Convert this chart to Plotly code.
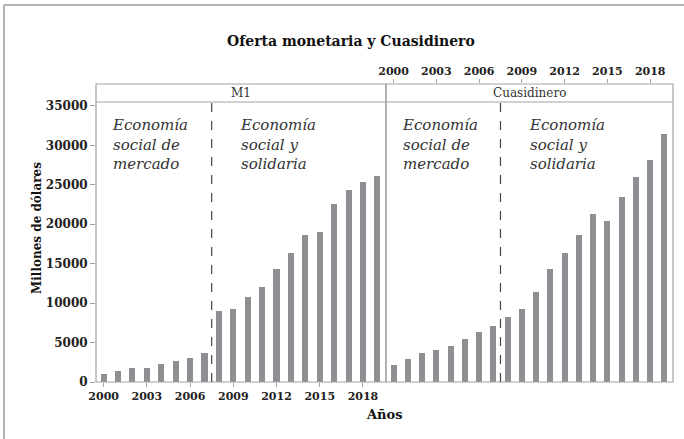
import plotly.graph_objects as go

# Annual series, millions of dollars
years = list(range(2000, 2020))
m1 = [1000, 1400, 1800, 1800, 2250, 2700, 3100, 3700, 8950, 9200,
      10750, 12050, 14350, 16300, 18600, 19000, 22600, 24350, 25300, 26150]
cuasidinero = [2100, 2950, 3700, 4000, 4550, 5450, 6350, 7050, 8300, 9300,
               11400, 14350, 16300, 18700, 21250, 20450, 23500, 26050, 28200, 31500]
panel_names = ["M1", "Cuasidinero"]
period_labels = ["Economía<br>social de<br>mercado", "Economía<br>social y<br>solidaria"]
year_ticks = [2000, 2003, 2006, 2009, 2012, 2015, 2018]
value_ticks = [0, 5000, 10000, 15000, 20000, 25000, 30000, 35000]
break_year = 2007.5

W, H = 684, 439
L, R, T, B = 96, 673, 84, 382          # plot area in pixels
mid = 386                               # panel divider
panel_top = 35500                       # top of bar area (below strip)
y_top = panel_top * (B - T) / (B - 102)

def px(xp):
    return (xp - L) / (R - L)

def py(yp):
    return (B - yp) / (B - T)

SERIF = "DejaVu Serif"
BAR = "#8e8e93"
EDGE = "#a3a3a3"

fig = go.Figure()
fig.add_trace(go.Bar(x=years, y=m1, width=0.42, marker_color=BAR,
                     marker_line_width=0, xaxis="x", yaxis="y", showlegend=False))
fig.add_trace(go.Bar(x=years, y=cuasidinero, width=0.42, marker_color=BAR,
                     marker_line_width=0, xaxis="x2", yaxis="y", showlegend=False))

d = (mid - L) / (R - L)
xr = [1999.47, 2019.6]
tick_font = dict(family=SERIF, size=11, color="#222", weight="bold")

fig.update_layout(
    width=W, height=H,
    margin=dict(l=L, r=W - R, t=T, b=H - B),
    paper_bgcolor="white", plot_bgcolor="white",
    bargap=0,
    xaxis=dict(domain=[0, d], range=xr, tickvals=year_ticks, ticks="outside",
               ticklen=4, tickcolor=EDGE, showline=False, showgrid=False,
               zeroline=False, tickfont=tick_font, anchor="y"),
    xaxis2=dict(domain=[d, 1], range=xr, tickvals=year_ticks, ticks="outside",
                ticklen=4, tickcolor=EDGE, side="top", showline=False,
                showgrid=False, zeroline=False, tickfont=tick_font, anchor="y"),
    yaxis=dict(range=[0, y_top], tickvals=value_ticks,
               ticktext=[str(v) for v in value_ticks], ticks="outside",
               ticklen=5, tickcolor=EDGE, showline=False, showgrid=False,
               zeroline=False,
               tickfont=dict(family=SERIF, size=12, color="#222", weight="bold")),
)

shapes = []
for ax in ["x", "x2"]:
    # panel frame including the strip
    shapes.append(dict(type="rect", xref=f"{ax} domain", yref="paper",
                       x0=0, x1=1, y0=0, y1=1, line=dict(color=EDGE, width=1.2)))
    # strip separator
    shapes.append(dict(type="line", xref=f"{ax} domain", yref="y",
                       x0=0, x1=1, y0=panel_top, y1=panel_top,
                       line=dict(color=EDGE, width=1.2)))
    # period break
    shapes.append(dict(type="line", xref=ax, yref="y",
                       x0=break_year, x1=break_year, y0=0, y1=panel_top,
                       line=dict(color="#444", width=1.2, dash="dash")))
# outer frame: top and left edges
shapes.append(dict(type="line", xref="paper", yref="paper",
                   x0=px(4), x1=px(W + 10), y0=py(5), y1=py(5),
                   line=dict(color="#b3b3b3", width=2)))
shapes.append(dict(type="line", xref="paper", yref="paper",
                   x0=px(4), x1=px(4), y0=py(5), y1=py(H + 10),
                   line=dict(color="#b3b3b3", width=2)))
fig.update_layout(shapes=shapes)

ann = []
for ax, name in zip(["x", "x2"], panel_names):
    ann.append(dict(xref=f"{ax} domain", yref="y", x=0.5, y=(panel_top + y_top) / 2,
                    text=name, showarrow=False, yanchor="middle",
                    font=dict(family=SERIF, size=12, color="#333")))
    for xpos, lab in zip([2000.45, 2009.35], period_labels):
        ann.append(dict(xref=ax, yref="y", x=xpos, y=34000, text=lab,
                        showarrow=False, xanchor="left", yanchor="top", align="left",
                        font=dict(family=SERIF, size=15, color="#333", style="italic")))

ann.append(dict(xref="paper", yref="paper", x=px(351), y=py(41), yanchor="middle",
                text="Oferta monetaria y Cuasidinero", showarrow=False,
                font=dict(family=SERIF, size=14, color="#111", weight="bold")))
ann.append(dict(xref="paper", yref="paper", x=px(384), y=py(415), yanchor="middle",
                text="Años", showarrow=False,
                font=dict(family=SERIF, size=13, color="#111", weight="bold")))
ann.append(dict(xref="paper", yref="paper", x=px(28), y=py(228), yanchor="middle",
                text="Millones de dólares", showarrow=False, textangle=-90,
                font=dict(family=SERIF, size=12, color="#111", weight="bold")))
fig.update_layout(annotations=ann)

fig.write_html("out.html")
